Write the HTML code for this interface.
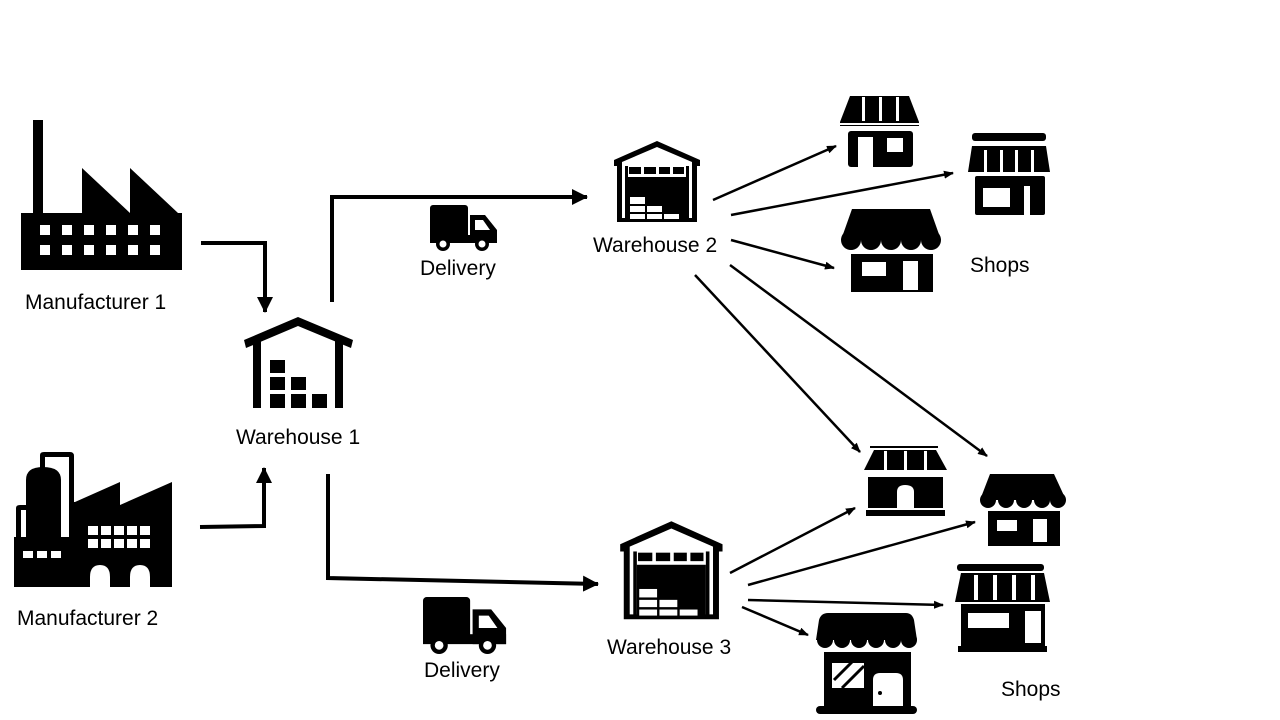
<!DOCTYPE html>
<html><head><meta charset="utf-8"><style>
html,body{margin:0;padding:0;background:#fff;}
svg{display:block}
text{font-family:"Liberation Sans",sans-serif;font-size:21px;fill:#000}
</style></head><body>
<svg width="1280" height="720" viewBox="0 0 1280 720" xmlns="http://www.w3.org/2000/svg">
<defs>
<marker id="ah" markerWidth="10" markerHeight="10" refX="9" refY="5" orient="auto" markerUnits="userSpaceOnUse">
<path d="M0,1 L10,5 L0,9 Z" fill="#000"/></marker>
<marker id="big" markerWidth="16" markerHeight="16" refX="15" refY="8" orient="auto" markerUnits="userSpaceOnUse">
<path d="M0,0 L16,8 L0,16 Z" fill="#000"/></marker>
<g id="wh">
<path d="M1,20 L44,1 L87,20 L87,26 L84,26 L84,82 L4,82 L4,26 L1,26 Z" fill="#000"/>
<path d="M9,22 L44,7 L79,22 L79,78 L9,78 Z" fill="#fff"/>
<rect x="12" y="26" width="3" height="53" fill="#000"/>
<rect x="73" y="26" width="3" height="53" fill="#000"/>
<rect x="16" y="27" width="12" height="7" fill="#000"/>
<rect x="31" y="27" width="12" height="7" fill="#000"/>
<rect x="46" y="27" width="11" height="7" fill="#000"/>
<rect x="60" y="27" width="11" height="7" fill="#000"/>
<rect x="15" y="37" width="58" height="42" fill="#000"/>
<g fill="#fff"><rect x="17" y="57" width="15" height="7"/><rect x="17" y="66" width="15" height="6"/><rect x="34" y="66" width="15" height="6"/><rect x="17" y="74" width="15" height="5"/><rect x="34" y="74" width="15" height="5"/><rect x="51" y="74" width="15" height="5"/></g>
</g>
<g id="truck">
<rect x="0" y="0" width="38" height="36" rx="3" fill="#000"/>
<path d="M40,10 L55,10 L67,25 L67,38 L40,38 Z" fill="#000"/>
<path d="M45,15 L53,15 L60,25 L45,25 Z" fill="#fff"/>
<rect x="0" y="30" width="67" height="8" fill="#000"/>
<circle cx="13" cy="39" r="7" fill="#000"/><circle cx="13" cy="39" r="3.5" fill="#fff"/>
<circle cx="52" cy="39" r="7" fill="#000"/><circle cx="52" cy="39" r="3.5" fill="#fff"/>
</g>
</defs>

<!-- Factory 1 -->
<g fill="#000">
<rect x="33" y="120" width="10" height="100"/>
<path d="M82,168 L130,213 L130,168 L178,213 L182,213 L182,270 L21,270 L21,213 L82,213 Z"/>
</g>
<g fill="#fff">
<rect x="40" y="225" width="10" height="10"/><rect x="62" y="225" width="10" height="10"/><rect x="84" y="225" width="10" height="10"/><rect x="106" y="225" width="10" height="10"/><rect x="128" y="225" width="10" height="10"/><rect x="150" y="225" width="10" height="10"/>
<rect x="40" y="245" width="10" height="10"/><rect x="62" y="245" width="10" height="10"/><rect x="84" y="245" width="10" height="10"/><rect x="106" y="245" width="10" height="10"/><rect x="128" y="245" width="10" height="10"/><rect x="150" y="245" width="10" height="10"/>
</g>
<text x="25" y="309">Manufacturer 1</text>

<!-- Factory 2 -->
<g fill="#000">
<path d="M40,500 L40,455 Q40,452 44,452 L70,452 Q74,452 74,456 L74,505 L69,505 L69,457 L45,457 L45,500 Z"/>
<path d="M26,537 L26,480 Q26,467 43,467 Q61,467 61,480 L61,537 Z"/>
<path d="M16,537 L16,508 Q16,505 20,505 L26,505 L26,510 L21,510 L21,537 Z"/>
<path d="M14,537 L69,537 L69,502 L75,502 L120,482 L120,505 L172,482 L172,587 L150,587 L150,577 Q150,565 140,565 Q130,565 130,577 L130,587 L110,587 L110,577 Q110,565 100,565 Q90,565 90,577 L90,587 L14,587 Z"/>
</g>
<g fill="#fff">
<rect x="88" y="526" width="10" height="9"/><rect x="101" y="526" width="10" height="9"/><rect x="114" y="526" width="10" height="9"/><rect x="127" y="526" width="10" height="9"/><rect x="140" y="526" width="10" height="9"/>
<rect x="88" y="539" width="10" height="9"/><rect x="101" y="539" width="10" height="9"/><rect x="114" y="539" width="10" height="9"/><rect x="127" y="539" width="10" height="9"/><rect x="140" y="539" width="10" height="9"/>
<rect x="23" y="551" width="10" height="7"/><rect x="37" y="551" width="10" height="7"/><rect x="51" y="551" width="10" height="7"/>
</g>
<text x="17" y="625">Manufacturer 2</text>

<!-- Warehouse 1 -->
<g fill="#000">
<path d="M244,340 L298,317 L353,340 L351,348 L298,326 L246,348 Z"/>
<rect x="253" y="340" width="8" height="68"/><rect x="335" y="340" width="8" height="68"/>
<rect x="270" y="360" width="15" height="13"/>
<rect x="270" y="377" width="15" height="13"/><rect x="291" y="377" width="15" height="13"/>
<rect x="270" y="394" width="15" height="14"/><rect x="291" y="394" width="15" height="14"/><rect x="312" y="394" width="15" height="14"/>
</g>
<text x="236" y="444">Warehouse 1</text>

<!-- Connectors from factories -->
<g fill="none" stroke="#000" stroke-width="4">
<polyline points="201,243 265,243 265,312" marker-end="url(#big)" />
<polyline points="200,527 264,526 264,468" marker-end="url(#big)" />
<polyline points="332,302 332,197 587,197" marker-end="url(#big)" />
<polyline points="328,474 328,578 598,584" marker-end="url(#big)" />
</g>

<!-- Trucks -->
<use href="#truck" x="430" y="205"/>
<use href="#truck" transform="translate(423,597) scale(1.24)"/>
<text x="420" y="275">Delivery</text>
<text x="424" y="677">Delivery</text>

<!-- Warehouses 2,3 -->
<use href="#wh" x="613" y="140"/>
<use href="#wh" transform="translate(619,520) scale(1.19,1.21)"/>
<text x="593" y="252">Warehouse 2</text>
<text x="607" y="654">Warehouse 3</text>

<!-- thin arrows -->
<g stroke="#000" stroke-width="2.5" fill="none" marker-end="url(#ah)">
<line x1="713" y1="200" x2="836" y2="146"/>
<line x1="731" y1="215" x2="953" y2="173"/>
<line x1="731" y1="240" x2="834" y2="268"/>
<line x1="695" y1="275" x2="860" y2="452"/>
<line x1="730" y1="265" x2="987" y2="456"/>
<line x1="730" y1="573" x2="855" y2="508"/>
<line x1="748" y1="585" x2="975" y2="522"/>
<line x1="748" y1="600" x2="943" y2="605"/>
<line x1="742" y1="607" x2="808" y2="635"/>
</g>

<!-- Shop 1 -->
<g fill="#000">
<path d="M850,96 L909,96 L919,122 L919,126 L840,126 L840,122 Z"/>
<rect x="848" y="131" width="65" height="36" rx="3"/>
</g>
<g fill="#fff"><rect x="862" y="97" width="3" height="24"/><rect x="879" y="97" width="3" height="24"/><rect x="896" y="97" width="3" height="24"/>
<rect x="840" y="123" width="79" height="2"/>
<rect x="858" y="137" width="15" height="30"/><rect x="887" y="138" width="16" height="14"/></g>

<!-- Shop 2 -->
<g fill="#000">
<rect x="972" y="133" width="74" height="8" rx="3"/>
<path d="M972,146 L1046,146 L1050,172 L968,172 Z"/>
<rect x="975" y="176" width="70" height="39" rx="2"/>
</g>
<g fill="#fff"><rect x="984" y="150" width="3" height="22"/><rect x="1000" y="150" width="3" height="22"/><rect x="1015" y="150" width="3" height="22"/><rect x="1031" y="150" width="3" height="22"/>
<rect x="983" y="188" width="27" height="19"/><rect x="1024" y="186" width="6" height="29"/></g>

<!-- Shop 3 -->
<g fill="#000">
<path d="M852,209 L930,209 L941,240 L841,240 Z"/>
<circle cx="851" cy="240" r="10"/><circle cx="871" cy="240" r="10"/><circle cx="891" cy="240" r="10"/><circle cx="911" cy="240" r="10"/><circle cx="931" cy="240" r="10"/>
<rect x="851" y="254" width="82" height="38"/>
</g>
<g fill="#fff"><rect x="862" y="262" width="24" height="14"/><rect x="903" y="261" width="15" height="29"/></g>

<!-- Shop 4 -->
<g fill="#000">
<rect x="870" y="446" width="68" height="2"/>
<path d="M874,450 L936,450 L947,470 L864,470 Z"/>
<rect x="868" y="477" width="75" height="31"/>
<rect x="866" y="510" width="79" height="6"/>
</g>
<g fill="#fff"><rect x="884" y="451" width="3" height="19"/><rect x="904" y="451" width="3" height="19"/><rect x="924" y="451" width="3" height="19"/>
<path d="M897,508 L897,492 Q897,485 905,485 Q914,485 914,492 L914,508 Z"/></g>

<!-- Shop 5 -->
<g fill="#000">
<path d="M990,474 L1054,474 L1066,500 L980,500 Z"/>
<circle cx="988" cy="500" r="8"/><circle cx="1006" cy="500" r="8"/><circle cx="1024" cy="500" r="8"/><circle cx="1042" cy="500" r="8"/><circle cx="1058" cy="500" r="8"/>
<rect x="988" y="511" width="72" height="35"/>
</g>
<g fill="#fff"><rect x="997" y="520" width="20" height="11"/><rect x="1033" y="519" width="14" height="23"/></g>

<!-- Shop 6 -->
<g fill="#000">
<rect x="957" y="564" width="87" height="7" rx="3"/>
<path d="M961,573 L1044,573 L1050,602 L955,602 Z"/>
<rect x="961" y="604" width="84" height="43"/>
<rect x="958" y="646" width="89" height="6"/>
</g>
<g fill="#fff"><rect x="974" y="575" width="4" height="25"/><rect x="993" y="575" width="4" height="25"/><rect x="1012" y="575" width="4" height="25"/><rect x="1031" y="575" width="4" height="25"/>
<rect x="968" y="613" width="41" height="15"/><rect x="1025" y="611" width="16" height="32"/></g>

<!-- Shop 7 -->
<g fill="#000">
<path d="M828,613 L906,613 Q912,613 914,620 L917,640 L816,640 L819,620 Q821,613 828,613 Z"/>
<circle cx="825" cy="640" r="8"/><circle cx="842" cy="640" r="8"/><circle cx="859" cy="640" r="8"/><circle cx="876" cy="640" r="8"/><circle cx="893" cy="640" r="8"/><circle cx="909" cy="640" r="8"/>
<rect x="824" y="652" width="87" height="56"/>
<rect x="816" y="706" width="101" height="8" rx="4"/>
</g>
<g fill="#fff"><rect x="832" y="663" width="32" height="25"/>
<path d="M873,706 L873,680 Q873,673 880,673 L896,673 Q903,673 903,680 L903,706 Z"/></g>
<g stroke="#000" stroke-width="3"><line x1="834" y1="680" x2="852" y2="662"/><line x1="842" y1="688" x2="864" y2="666"/></g>
<circle cx="880" cy="693" r="2" fill="#000"/>

<text x="970" y="272">Shops</text>
<text x="1001" y="696">Shops</text>
</svg>
</body></html>
